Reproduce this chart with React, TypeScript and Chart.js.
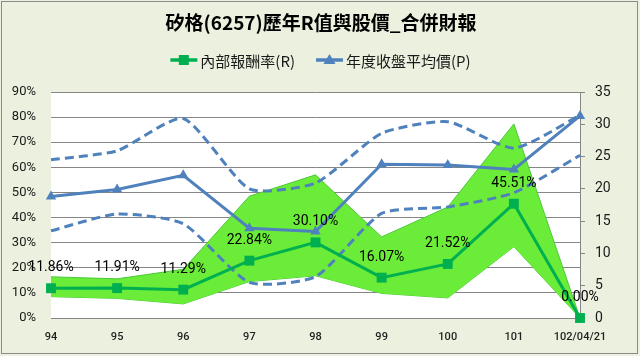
import React, { useEffect, useRef } from 'react';
import { Chart, registerables } from 'chart.js';

Chart.register(...registerables);

const titleText = '矽格(6257)歷年R值與股價_合併財報';
const rLabel = '內部報酬率(R)';
const pLabel = '年度收盤平均價(P)';

const categories = ['94', '95', '96', '97', '98', '99', '100', '101', '102/04/21'];
const rValues = [11.86, 11.91, 11.29, 22.84, 30.1, 16.07, 21.52, 45.51, 0.0];
const rBandHigh = [16.4, 15.6, 19.4, 48.5, 57.0, 32.3, 44.2, 77.3, 0];
const rBandLow = [8.5, 7.8, 5.6, 14.5, 16.8, 9.8, 8.0, 28.4, 0];
const pValues = [18.8, 19.9, 22.1, 13.9, 13.4, 23.8, 23.7, 23.0, 31.3];
const pHigh = [24.5, 25.9, 30.9, 20.0, 20.9, 28.6, 30.4, 26.3, 31.4];
const pLow = [13.5, 16.1, 14.6, 5.5, 6.4, 16.2, 17.2, 19.4, 25.2];
const leftTicks = [0, 10, 20, 30, 40, 50, 60, 70, 80, 90];
const rightTicks = [0, 5, 10, 15, 20, 25, 30, 35];

const GREEN = '#00B050';
const AREA = '#6AEC38';
const AREA_EDGE = '#4CC83A';
const BLUE = '#4F81BD';
const GRID = '#868686';
const BG = '#EBF1DE';
const CJK = '"Noto Sans CJK TC", "Noto Sans CJK SC", sans-serif';

export default function App() {
  const ref = useRef<HTMLCanvasElement>(null);

  useEffect(() => {
    if (!ref.current) return;

    const decorPlugin = {
      id: 'decor',
      beforeDraw(chart: any) {
        const { ctx, width, height, chartArea: a } = chart;
        ctx.save();
        ctx.fillStyle = BG;
        ctx.fillRect(0, 0, width, height);
        ctx.strokeStyle = '#8A8A8A';
        ctx.lineWidth = 1;
        ctx.strokeRect(1.5, 1.5, width - 4, height - 4);
        ctx.fillStyle = '#FFFFFF';
        ctx.fillRect(a.left, a.top, a.right - a.left, a.bottom - a.top);
        ctx.restore();
      },
      afterDatasetsDraw(chart: any) {
        const { ctx } = chart;
        const meta = chart.getDatasetMeta(2);
        ctx.save();
        ctx.font = '14px Roboto, sans-serif';
        ctx.fillStyle = '#000000';
        ctx.textAlign = 'center';
        ctx.textBaseline = 'middle';
        meta.data.forEach((pt: any, i: number) => {
          ctx.fillText(rValues[i].toFixed(2) + '%', pt.x, pt.y - 20.5);
        });
        ctx.restore();
      },
      afterDraw(chart: any) {
        const { ctx } = chart;
        ctx.save();
        // title
        ctx.font = 'bold 19px ' + CJK;
        ctx.fillStyle = '#000000';
        ctx.textAlign = 'center';
        ctx.textBaseline = 'middle';
        ctx.fillText(titleText, 321, 23);
        // legend
        ctx.font = '15px ' + CJK;
        ctx.textAlign = 'left';
        const lineW = 27;
        const gapText = 3;
        const gapItem = 21;
        const w1 = ctx.measureText(rLabel).width;
        const w2 = ctx.measureText(pLabel).width;
        const total = lineW + gapText + w1 + gapItem + lineW + gapText + w2;
        let x = 320.5 - total / 2;
        const y = 60;
        // green item
        ctx.strokeStyle = GREEN;
        ctx.lineWidth = 3.5;
        ctx.beginPath();
        ctx.moveTo(x, y);
        ctx.lineTo(x + lineW, y);
        ctx.stroke();
        ctx.fillStyle = GREEN;
        ctx.fillRect(x + lineW / 2 - 5, y - 5, 10, 10);
        ctx.fillStyle = '#1A1A1A';
        ctx.fillText(rLabel, x + lineW + gapText, y + 1);
        x += lineW + gapText + w1 + gapItem;
        // blue item
        ctx.strokeStyle = BLUE;
        ctx.lineWidth = 3.5;
        ctx.beginPath();
        ctx.moveTo(x, y);
        ctx.lineTo(x + lineW, y);
        ctx.stroke();
        ctx.fillStyle = BLUE;
        ctx.beginPath();
        const cx = x + lineW / 2;
        ctx.moveTo(cx, y - 6);
        ctx.lineTo(cx + 6, y + 4);
        ctx.lineTo(cx - 6, y + 4);
        ctx.closePath();
        ctx.fill();
        ctx.fillStyle = '#1A1A1A';
        ctx.fillText(pLabel, x + lineW + gapText, y + 1);
        ctx.restore();
      },
    };

    const chart = new Chart(ref.current, {
      type: 'line',
      data: {
        labels: categories,
        datasets: [
          {
            label: 'R下限',
            data: rBandLow,
            yAxisID: 'y',
            borderColor: AREA_EDGE,
            borderWidth: 1,
            pointRadius: 0,
            fill: false,
            order: 5,
          },
          {
            label: 'R上限',
            data: rBandHigh,
            yAxisID: 'y',
            borderColor: AREA_EDGE,
            borderWidth: 1,
            backgroundColor: AREA,
            pointRadius: 0,
            fill: 0,
            order: 4,
          },
          {
            label: rLabel,
            data: rValues,
            yAxisID: 'y',
            borderColor: GREEN,
            backgroundColor: GREEN,
            borderWidth: 3,
            pointStyle: 'rect',
            pointRadius: 7,
            pointBorderWidth: 0,
            fill: false,
            clip: false,
            order: 1,
          },
          {
            label: pLabel,
            data: pValues,
            yAxisID: 'y1',
            borderColor: BLUE,
            backgroundColor: BLUE,
            borderWidth: 3,
            pointStyle: 'triangle',
            pointRadius: 6,
            pointBorderWidth: 0,
            fill: false,
            clip: false,
            order: 2,
          },
          {
            label: 'P上限',
            data: pHigh,
            yAxisID: 'y1',
            borderColor: BLUE,
            borderWidth: 3,
            borderDash: [9, 5],
            pointRadius: 0,
            tension: 0.2,
            fill: false,
            clip: false,
            order: 3,
          },
          {
            label: 'P下限',
            data: pLow,
            yAxisID: 'y1',
            borderColor: BLUE,
            borderWidth: 3,
            borderDash: [9, 5],
            pointRadius: 0,
            tension: 0.2,
            fill: false,
            clip: false,
            order: 3,
          },
        ],
      },
      options: {
        responsive: false,
        animation: false,
        layout: { padding: { top: 92, left: 0, right: 0, bottom: 0 } },
        plugins: {
          legend: { display: false },
          title: { display: false },
          tooltip: { enabled: false },
          filler: { propagate: false },
        },
        scales: {
          x: {
            offset: false,
            grid: { display: false, drawTicks: false },
            border: { display: true, color: GRID },
            ticks: {
              color: '#1F1F1F',
              font: { family: 'Roboto', size: 11, weight: '500' },
              padding: 13,
              maxRotation: 0,
              autoSkip: false,
            },
            afterFit(scale: any) {
              scale.height = 38;
            },
          },
          y: {
            position: 'left',
            min: 0,
            max: 90,
            afterBuildTicks(scale: any) {
              scale.ticks = leftTicks.map((v) => ({ value: v }));
            },
            grid: { color: GRID, drawTicks: false, lineWidth: 1 },
            border: { display: false },
            ticks: {
              color: '#1A1A1A',
              font: { family: 'Roboto', size: 13 },
              padding: 15,
              callback: (v: any) => v + '%',
            },
            afterFit(scale: any) {
              scale.width = 51;
            },
          },
          y1: {
            position: 'right',
            min: 0,
            max: 35,
            afterBuildTicks(scale: any) {
              scale.ticks = rightTicks.map((v) => ({ value: v }));
            },
            grid: { drawOnChartArea: false, color: GRID, drawTicks: true, tickLength: 5 },
            border: { display: true, color: GRID },
            ticks: {
              color: '#1A1A1A',
              font: { family: 'Roboto', size: 14 },
              padding: 10,
            },
            afterFit(scale: any) {
              scale.width = 60;
            },
          },
        },
      },
      plugins: [decorPlugin],
    } as any);

    return () => chart.destroy();
  }, []);

  return (
    <div style={{ position: 'absolute', left: 0, top: 0, width: 640, height: 356 }}>
      <canvas ref={ref} width={640} height={356} style={{ width: 640, height: 356, display: 'block' }} />
    </div>
  );
}
